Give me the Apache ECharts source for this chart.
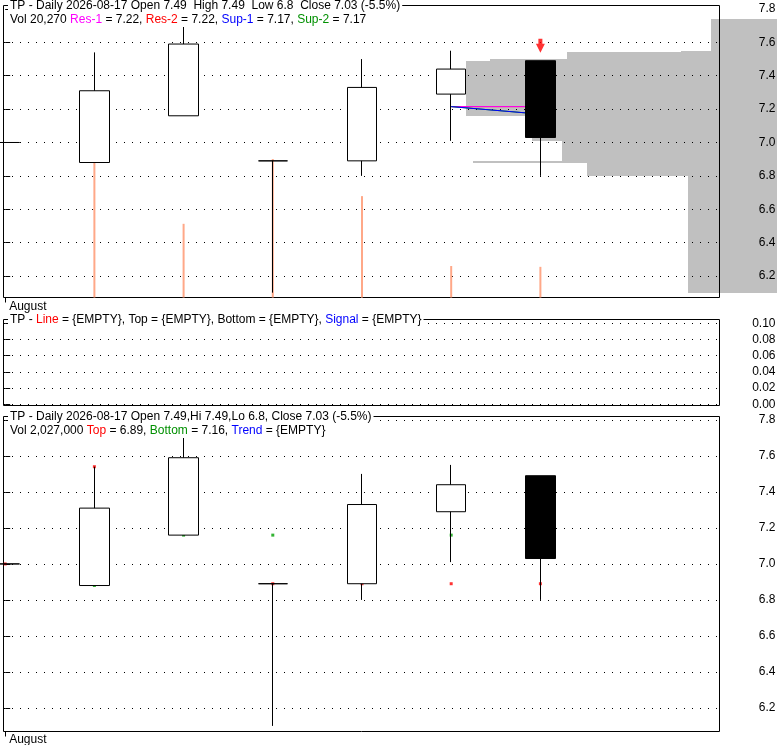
<!DOCTYPE html>
<html><head><meta charset="utf-8">
<script src="https://cdn.jsdelivr.net/npm/echarts@6/dist/echarts.min.js"></script>
<style>html,body{margin:0;padding:0;background:#fff}#c{width:780px;height:745px}</style>
</head><body><div id="c"></div>
<script>
// ---- data ----
const dayIndex = [0, 1, 2, 3, 4, 5, 6];
const openP  = [7.00, 6.88, 7.16, 6.89, 6.89, 7.29, 7.49];
const closeP = [7.00, 7.31, 7.59, 6.89, 7.33, 7.44, 7.03];
const lowP   = [7.00, 6.88, 7.16, 6.10, 6.80, 7.01, 6.80];
const highP  = [7.00, 7.54, 7.74, 6.89, 7.50, 7.55, 7.49];
const volume = [0, 110000, 48700, 91500, 67000, 20800, 20270];
const profileVolume = [0, 114000, 66000, 89000, 77000, 30000, 24000];
const res1 = [null, null, null, null, null, 7.215, 7.215];
const res2 = [null, null, null, null, null, 7.215, 7.215];
const sup1 = [null, null, null, null, null, 7.215, 7.17];
const sup2 = [null, null, null, null, null, 7.215, 7.17];
const topSignal    = [7.00, 7.54, null, 6.89, 6.89, 6.89, 6.89];
const bottomSignal = [null, 6.88, 7.16, 7.16, null, 7.16, 7.16];
const sellSignal   = [null, null, null, null, null, null, 7.49];
const priceTicks = [6.2, 6.4, 6.6, 6.8, 7.0, 7.2, 7.4, 7.6, 7.8];
const topGridTicks = [6.2, 6.4, 6.6, 6.8, 7.0, 7.2, 7.4, 7.6];
const oscTicks = [0, 0.02, 0.04, 0.06, 0.08, 0.10];
const monthLabels = ['August'];
const monthStart = [0];

const header1 = 'TP - Daily 2026-08-17 Open 7.49  High 7.49  Low 6.8  Close 7.03 (-5.5%)';
const header2 = 'Vol 20,270 {m|Res-1} = 7.22, {r|Res-2} = 7.22, {b|Sup-1} = 7.17, {g|Sup-2} = 7.17';
const header3 = 'TP - {r|Line} = {EMPTY}, Top = {EMPTY}, Bottom = {EMPTY}, {b|Signal} = {EMPTY}';
const header4 = 'TP - Daily 2026-08-17 Open 7.49,Hi 7.49,Lo 6.8, Close 7.03 (-5.5%)';
const header5 = 'Vol 2,027,000 {r|Top} = 6.89, {g|Bottom} = 7.16, {b|Trend} = {EMPTY}';

// ---- layout ----
const FAM = '"Liberation Sans", Arial, sans-serif';
const FONT = '12px ' + FAM;
const xMin = -0.019, xMax = 8.008;
const gTop = {left: 3.5, top: 5.5, width: 716, height: 292};
const gMid = {left: 3.5, top: 319.5, width: 716, height: 86};
const gBot = {left: 3.5, top: 416.5, width: 716, height: 315};
const gProf = {left: 3.5, top: 5.5, width: 773.5, height: 292};
const PX_UNIT = 1000;

const candleData = dayIndex.map(i => [i, openP[i], closeP[i], lowP[i], highP[i]]);
const pts = arr => dayIndex.filter(i => arr[i] != null).map(i => [i, arr[i]]);

// volume-at-price bins (sum of each day's profile volume over its low-high range)
const bounds = Array.from(new Set(dayIndex.filter(i => profileVolume[i] > 0)
  .flatMap(i => [lowP[i], highP[i]]))).sort((a, b) => a - b);
const bins = [];
for (let j = 0; j < bounds.length - 1; j++) {
  const a = bounds[j], b = bounds[j + 1];
  let s = 0;
  dayIndex.forEach(i => { if (profileVolume[i] > 0 && lowP[i] <= a + 1e-9 && highP[i] >= b - 1e-9) s += profileVolume[i]; });
  if (s > 0) bins.push([a, b, s]);
}

const dotted = {color: '#000', width: 1, type: [1, 7], dashOffset: 7.5};
function priceAxis(grid, min, max, withSplit) {
  return {type: 'value', gridIndex: grid, position: 'right', min, max,
    axisLine: {show: false},
    axisTick: {show: true, inside: false, length: 5, lineStyle: {color: '#000', width: 1}, customValues: priceTicks},
    axisLabel: {customValues: priceTicks, formatter: v => (+v).toFixed(1), color: '#000',
      fontFamily: FAM, fontSize: 12, align: 'right', margin: 56},
    splitLine: {show: withSplit, lineStyle: dotted}};
}
function timeAxis(grid, showMonth, margin) {
  return {type: 'value', gridIndex: grid, min: xMin, max: xMax,
    axisLine: {show: false}, splitLine: {show: false},
    axisTick: {show: showMonth, customValues: monthStart, length: 5, lineStyle: {color: '#000'}},
    axisLabel: {show: showMonth, customValues: monthStart, formatter: v => monthLabels[monthStart.indexOf(Math.round(v))] || '',
      color: '#000', fontFamily: FAM, fontSize: 12, align: 'left', margin: margin, padding: [0, 0, 0, 4]}};
}
function candles(xi, yi) {
  return {type: 'candlestick', xAxisIndex: xi, yAxisIndex: yi, data: candleData, encode: {x: 0, y: [1, 2, 3, 4]},
    barWidth: 30, clip: false, z: 5,
    itemStyle: {color: '#fff', color0: '#000', borderColor: '#000', borderColor0: '#000', borderWidth: 1}};
}
function lineS(arr, color, z) {
  return {type: 'line', xAxisIndex: 0, yAxisIndex: 0, data: pts(arr), showSymbol: false, symbol: 'none',
    lineStyle: {color, width: 1}, z};
}
function hdr(x, y, text) {
  return {type: 'text', x, y, z: 100, silent: true,
    style: {text, font: FONT, fill: '#000', verticalAlign: 'middle', align: 'left',
      backgroundColor: '#fff', padding: [1, 2, 1, 2],
      rich: {
        m: {fill: '#ff00ff', font: FONT}, r: {fill: '#ff0000', font: FONT},
        b: {fill: '#0000ff', font: FONT}, g: {fill: '#009000', font: FONT}
      }}};
}

const chart = echarts.init(document.getElementById('c'), null, {renderer: 'canvas'});
chart.setOption({
  animation: false,
  backgroundColor: '#fff',
  grid: [
    Object.assign({show: true, borderColor: '#000', borderWidth: 1, outerBoundsMode: 'none'}, gTop),
    Object.assign({show: false, outerBoundsMode: 'none'}, gProf),
    Object.assign({show: true, borderColor: '#000', borderWidth: 1, outerBoundsMode: 'none'}, gMid),
    Object.assign({show: true, borderColor: '#000', borderWidth: 1, outerBoundsMode: 'none'}, gBot)
  ],
  xAxis: [
    timeAxis(0, true, 3),
    {type: 'value', gridIndex: 1, inverse: true, min: 0, max: gProf.width * PX_UNIT, show: false},
    timeAxis(2, false, 0),
    timeAxis(3, true, 2)
  ],
  yAxis: [
    priceAxis(0, 6.071, 7.821, false),
    {type: 'value', gridIndex: 0, min: 0, max: 193000, show: false},
    {type: 'value', gridIndex: 1, min: 6.071, max: 7.821, show: false},
    {type: 'value', gridIndex: 2, position: 'right', min: -0.0015, max: 0.1047,
      axisLine: {show: false},
      axisTick: {show: true, inside: false, length: 5, lineStyle: {color: '#000'}, customValues: oscTicks},
      axisLabel: {customValues: oscTicks, formatter: v => (+v).toFixed(2), color: '#000',
        fontFamily: FAM, fontSize: 12, align: 'right', margin: 56},
      splitLine: {show: true, lineStyle: dotted}},
    priceAxis(3, 6.069, 7.819, true),
    {type: 'value', gridIndex: 0, position: 'left', min: 6.071, max: 7.821,
      axisLine: {show: false}, axisLabel: {show: false},
      axisTick: {show: false, customValues: topGridTicks},
      splitLine: {show: true, lineStyle: dotted}}
  ],
  series: [
    {type: 'custom', xAxisIndex: 1, yAxisIndex: 2, z: -1, clip: false, silent: true,
      data: bins, encode: {x: 2, y: [0, 1]},
      renderItem: function (params, api) {
        const lo = api.value(0), hi = api.value(1), s = api.value(2);
        const p1 = api.coord([s, hi]);
        const p0 = api.coord([0, lo]);
        const x1 = Math.round(p1[0]), y1 = Math.round(p1[1]), x0 = Math.round(p0[0]), y0 = Math.round(p0[1]);
        return {type: 'rect', shape: {x: x1, y: y1, width: x0 - x1, height: y0 - y1}, style: {fill: '#c0c0c0'}};
      }},
    {type: 'bar', xAxisIndex: 0, yAxisIndex: 1, data: dayIndex.map(i => [i, volume[i]]), barWidth: 2,
      itemStyle: {color: '#ffa888'}, z: 2, silent: true},
    lineS(res2, '#ff0000', 3),
    lineS(res1, '#ff00ff', 3),
    lineS(sup2, '#009000', 3),
    lineS(sup1, '#0000ff', 3),
    candles(0, 0),
    {type: 'scatter', xAxisIndex: 0, yAxisIndex: 0, data: pts(sellSignal), z: 6,
      symbol: 'path://M2.5,0 L6.5,0 L6.5,5 L9,5 L4.5,14 L0,5 L2.5,5 Z', symbolSize: [9, 14], symbolOffset: [0, -15],
      itemStyle: {color: '#ff0000'}},
    {type: 'scatter', xAxisIndex: 3, yAxisIndex: 4, data: pts(topSignal), symbol: 'rect', symbolSize: 3, z: 3,
      itemStyle: {color: '#ff0000'}},
    {type: 'scatter', xAxisIndex: 3, yAxisIndex: 4, data: pts(bottomSignal), symbol: 'rect', symbolSize: 3, z: 3,
      itemStyle: {color: '#00a000'}},
    candles(3, 4)
  ],
  graphic: [
    hdr(8, 6, header1),
    hdr(8, 20, header2),
    hdr(8, 320, header3),
    hdr(8, 417, header4),
    hdr(8, 431, header5)
  ]
});
</script></body></html>
